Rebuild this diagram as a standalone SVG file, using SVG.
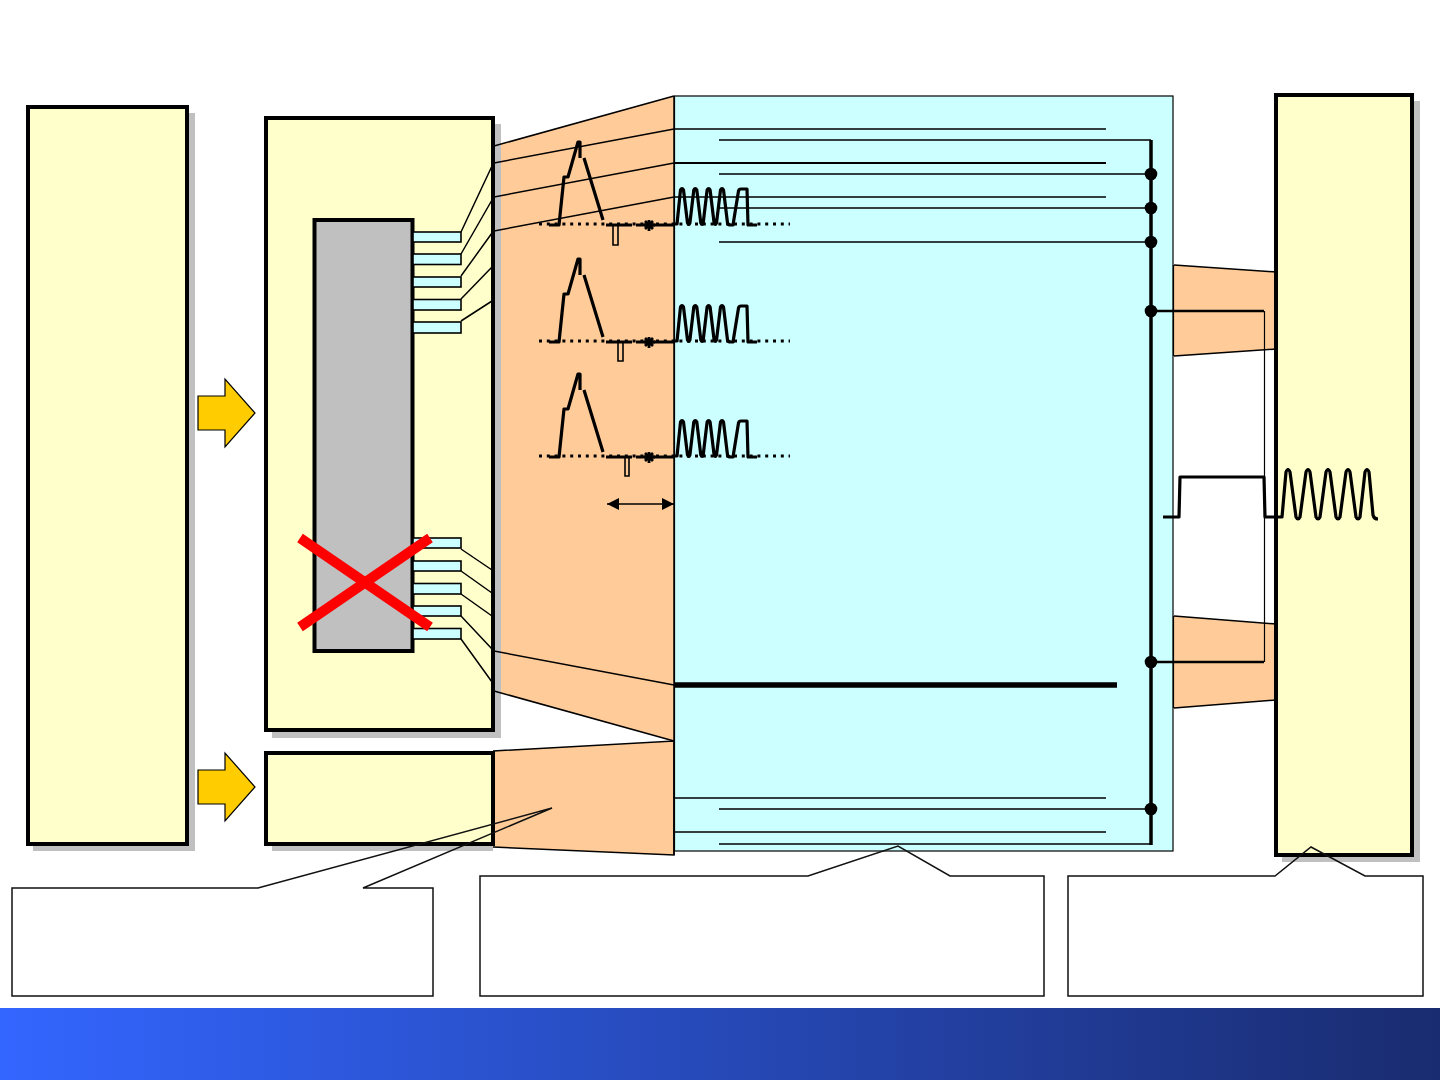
<svg xmlns="http://www.w3.org/2000/svg" xmlns:xlink="http://www.w3.org/1999/xlink" width="1440" height="1080" viewBox="0 0 1440 1080">
<style>
.box{fill:#ffffcc;stroke:#000;stroke-width:4}
.sh{fill:#c0c0c0}
.or{fill:#ffcc99;stroke:none}
.tab{fill:#ccffff;stroke:#000;stroke-width:1.6}
.l{fill:none;stroke:#000;stroke-width:1.5}
.m{fill:none;stroke:#000;stroke-width:2.2}
.wave{fill:none;stroke:#000;stroke-width:3.200;stroke-linejoin:round;stroke-linecap:butt}
.dot{fill:none;stroke:#000;stroke-width:3;stroke-dasharray:3 4.800}
.pulse{fill:none;stroke:#000;stroke-width:1.6}
.arr{fill:#ffcc00;stroke:#000;stroke-width:1.2}
.call{fill:none;stroke:#111;stroke-width:1.5}
.j{fill:#000}
</style>
<defs>
<linearGradient id="band" x1="0" y1="0" x2="1" y2="0"><stop offset="0" stop-color="#3366ff"/><stop offset="1" stop-color="#1a2c70"/></linearGradient>
<g id="sig">
<path class="dot" d="M539 224H790"/>
<path class="wave" d="M549 225H559L564 177H568L578 142H580V158M584 158L603 220M606 225H632M636 225H674"/>
<path class="wave" d="M644 225H655M649 220V231M645 221L653 229M653 221L645 229" style="stroke-width:2.800"/>
<path class="wave" d="M674 224H677L680.500 190Q682 187 683.500 190L687.500 223Q688.700 226 689.900 223L693.800 190Q695.300 187 696.800 190L700.800 223Q702 226 703.200 223L707.100 190Q708.600 187 710.100 190L714.100 223Q715.300 226 716.500 223L720.500 190Q722 187 723.500 190L727.500 223Q728 225 731 225H733L738.500 191Q739 189 741 189H747L748 225H757"/>
</g>
</defs>
<rect width="1440" height="1080" fill="#fff"/>
<g id="band-g"><rect y="1008" width="1440" height="72" fill="url(#band)"/></g>
<g id="panel-cyan"><rect x="674.500" y="96" width="498.500" height="755" fill="#ccffff" stroke="#000" stroke-width="1.200"/></g>
<g id="fan-shapes">
<polygon class="or" points="493,146 674,96 674,741 493,691"/>
<polygon class="or" points="493,751 674,741 674,855 493,847"/>
<polygon class="or" points="1174,265 1276,272 1276,349 1174,356"/>
<polygon class="or" points="1174,616 1276,624 1276,700 1174,708"/>
<path class="l" d="M1174 265L1276 272M1174 356L1276 349M1174 616L1276 624M1174 708L1276 700"/>
<path d="M1173.500 265V356M1173.500 616V708" stroke="#000" stroke-width="1.200" fill="none"/>
</g>
<g id="node-left"><rect class="sh" x="33" y="113" width="162" height="738"/><rect class="box" x="28" y="107" width="159" height="737"/></g>
<g id="node-module"><rect class="sh" x="272" y="124" width="229" height="614"/><rect class="box" x="266" y="118" width="227" height="612"/>
<rect x="314.500" y="220" width="98" height="431" fill="#c0c0c0" stroke="#000" stroke-width="4"/></g>
<g id="node-small"><rect class="sh" x="272" y="759" width="221" height="92"/><rect class="box" x="266" y="753" width="227" height="91"/></g>
<g id="node-right"><rect class="sh" x="1282" y="101" width="138" height="761"/><rect class="box" x="1276" y="95" width="136" height="760"/></g>
<g id="tabs">
<rect class="tab" x="413" y="232" width="48" height="10"/><rect class="tab" x="413" y="254" width="48" height="10.500"/><rect class="tab" x="413" y="277" width="48" height="10"/><rect class="tab" x="413" y="299.500" width="48" height="10.500"/><rect class="tab" x="413" y="322" width="48" height="11"/>
<rect class="tab" x="413" y="538" width="48" height="10"/><rect class="tab" x="413" y="561" width="48" height="10"/><rect class="tab" x="413" y="583.500" width="48" height="10.500"/><rect class="tab" x="413" y="606" width="48" height="10"/><rect class="tab" x="413" y="628.500" width="48" height="10.500"/>
</g>
<g id="connectors">
<path class="l" d="M461 232L492 166M461 254L492 200M461 276L492 233M461 299L492 267M461 321L492 301"/>
<path class="l" d="M461 549L492 570M461 571L492 593M461 594L492 616M461 616L492 649M461 639L492 682"/>
<path class="l" d="M494 146L674 96M494 163L674 129M494 197L674 163M494 231L674 197M494 651L674 685M494 691L674 741"/>
<path class="l" d="M674 129H1106M719 140H1151M719 174H1151M674 197H1106M719 208H1151M719 242H1151M674 798H1106M719 809H1151M674 832H1106M719 844H1151"/>
<path class="m" d="M674 163H1106"/>
<path d="M675 685H1117" stroke="#000" stroke-width="5.500" fill="none"/>
<path d="M1151 140V845" stroke="#000" stroke-width="3.500" fill="none"/>
<path class="l" d="M493 751L674 741V855L493 847"/>
<path class="l" d="M674 96V855"/>
<path d="M1151 311H1264M1151 662H1264" stroke="#000" stroke-width="2.400" fill="none"/>
<path d="M1264.500 311V662" stroke="#000" stroke-width="1.200" fill="none"/>
<circle class="j" cx="1151" cy="174" r="6.300"/><circle class="j" cx="1151" cy="208" r="6.300"/><circle class="j" cx="1151" cy="242" r="6.300"/><circle class="j" cx="1151" cy="311" r="6.300"/><circle class="j" cx="1151" cy="662" r="6.300"/><circle class="j" cx="1151" cy="809" r="6.300"/>
<path d="M607 504H674" stroke="#000" stroke-width="1.400"/>
<polygon class="j" points="607,504 619,498 619,510"/><polygon class="j" points="674,504 662,498 662,510"/>
</g>
<g id="signals">
<use xlink:href="#sig"/>
<use xlink:href="#sig" y="117"/>
<use xlink:href="#sig" y="232"/>
<path class="pulse" d="M613 226V245H618V226"/>
<path class="pulse" d="M618 343V361H623V343"/>
<path class="pulse" d="M625 458V476H629V458"/>
<path class="wave" d="M1163 517H1179L1180 477H1264L1265 517H1282L1286 472Q1288 467 1290 472L1296 517Q1298 521 1300 517L1306 472Q1308 467 1310 472L1316 517Q1318 521 1320 517L1326 472Q1328 467 1330 472L1336 517Q1338 521 1340 517L1346 472Q1348 467 1350 472L1356 517Q1358 521 1360 517L1365 472Q1367 467 1369 472L1373 515Q1374 519 1378 519"/>
</g>
<g id="arrows">
<polygon class="arr" points="198,396 225,396 225,379 255,413 225,447 225,430 198,430"/>
<polygon class="arr" points="198,770 225,770 225,753 255,787 225,821 225,804 198,804"/>
</g>
<g id="cross"><path d="M300 538L430 627M430 538L300 627" stroke="#ff0000" stroke-width="10" fill="none"/></g>
<g id="callouts">
<polygon class="call" points="12,888 258,888 552,808 363,888 433,888 433,996 12,996"/>
<polygon class="call" points="480,876 808,876 898,846 950,876 1044,876 1044,996 480,996"/>
<polygon class="call" points="1068,876 1275,876 1311,847 1365,876 1423,876 1423,996 1068,996"/>
</g>
</svg>
